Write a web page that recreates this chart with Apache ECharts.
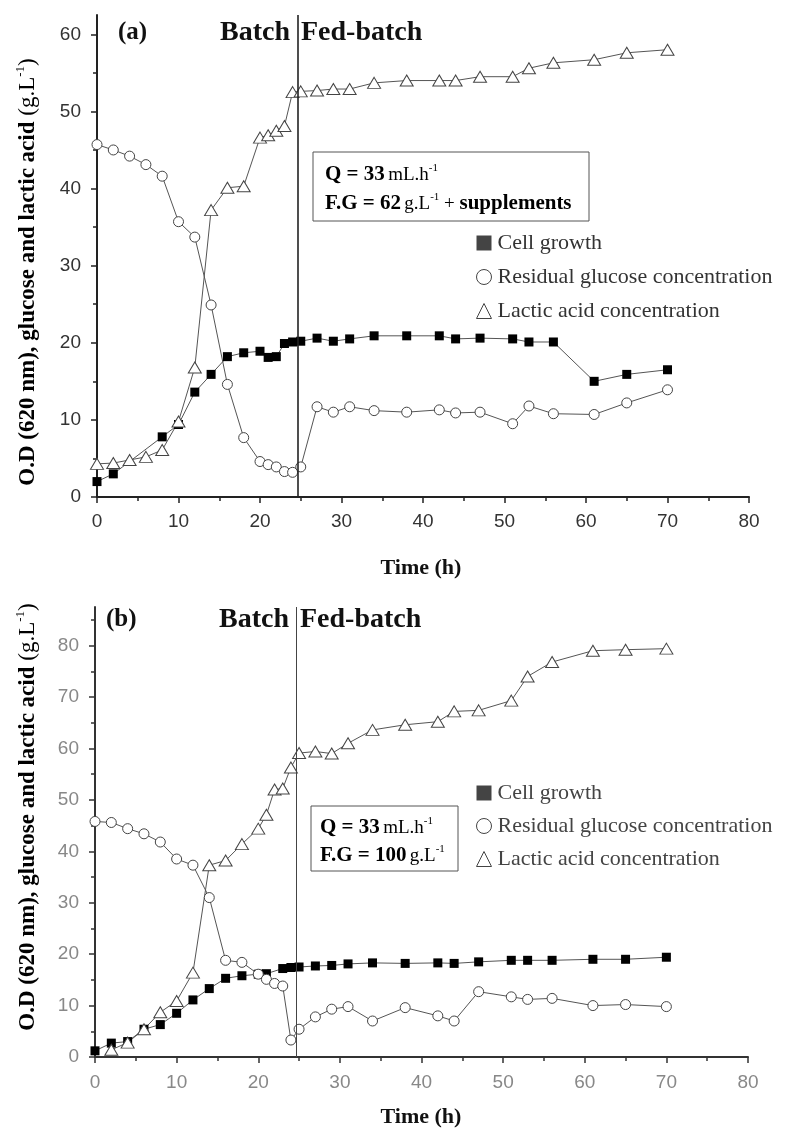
<!DOCTYPE html>
<html>
<head>
<meta charset="utf-8">
<script src="https://cdn.jsdelivr.net/npm/echarts@6/dist/echarts.min.js"></script>
<style>
html,body{margin:0;padding:0;background:#fff;}
#chart{width:787px;height:1144px;}
</style>
</head>
<body>
<div id="chart"></div>
<script>
// ---------- DATA ----------
var xTicks = [0, 10, 20, 30, 40, 50, 60, 70, 80];
var yTicksA = [0, 10, 20, 30, 40, 50, 60];
var yMinorA = [5, 15, 25, 35, 45, 55];
var yTicksB = [0, 10, 20, 30, 40, 50, 60, 70, 80];
var yMinorB = [5, 15, 25, 35, 45, 55, 65, 75, 85];

var seriesNames = ['Cell growth', 'Residual glucose concentration', 'Lactic acid concentration'];

// Panel (a)
var timeCellA = [0,2,8,10,12,14,16,18,20,21,22,23,24,25,27,29,31,34,38,42,44,47,51,53,56,61,65,70];
var cellA = [2.0,3.0,7.8,9.4,13.6,15.9,18.2,18.7,18.9,18.1,18.2,19.9,20.1,20.2,20.6,20.2,20.5,20.9,20.9,20.9,20.5,20.6,20.5,20.1,20.1,15.0,15.9,16.5];
var timeGlcA = [0,2,4,6,8,10,12,14,16,18,20,21,22,23,24,25,27,29,31,34,38,42,44,47,51,53,56,61,65,70];
var glucoseA = [45.7,45.0,44.2,43.1,41.6,35.7,33.7,24.9,14.6,7.7,4.6,4.2,3.9,3.3,3.2,3.9,11.7,11.0,11.7,11.2,11.0,11.3,10.9,11.0,9.5,11.8,10.8,10.7,12.2,13.9];
var timeLacA = [0,2,4,6,8,10,12,14,16,18,20,21,22,23,24,25,27,29,31,34,38,42,44,47,51,53,56,61,65,70];
var lacticA = [4.3,4.4,4.8,5.2,6.1,9.8,16.8,37.2,40.1,40.3,46.6,46.9,47.5,48.1,52.5,52.6,52.7,52.9,52.9,53.7,54.0,54.0,54.0,54.5,54.5,55.6,56.3,56.7,57.6,58.0];
var fedStartA = 24.6;

// Panel (b)
var timeCellB = [0,2,4,6,8,10,12,14,16,18,20,21,23,24,25,27,29,31,34,38,42,44,47,51,53,56,61,65,70];
var cellB = [1.2,2.7,3.0,5.4,6.3,8.5,11.1,13.3,15.3,15.8,16.1,16.2,17.2,17.4,17.5,17.7,17.8,18.1,18.3,18.2,18.3,18.2,18.5,18.8,18.8,18.8,19.0,19.0,19.4];
var timeGlcB = [0,2,4,6,8,10,12,14,16,18,20,21,22,23,24,25,27,29,31,34,38,42,44,47,51,53,56,61,65,70];
var glucoseB = [45.8,45.6,44.4,43.4,41.8,38.5,37.3,31.0,18.8,18.4,16.1,15.1,14.3,13.8,3.3,5.4,7.8,9.3,9.8,7.0,9.6,8.0,7.0,12.7,11.7,11.2,11.4,10.0,10.2,9.8];
var timeLacB = [2,4,6,8,10,12,14,16,18,20,21,22,23,24,25,27,29,31,34,38,42,44,47,51,53,56,61,65,70];
var lacticB = [1.4,2.8,5.4,8.7,10.9,16.4,37.3,38.2,41.4,44.4,47.1,52.0,52.2,56.3,59.1,59.4,59.0,61.0,63.6,64.6,65.2,67.2,67.4,69.3,74.0,76.8,79.0,79.2,79.4];
var fedStartB = 24.6;

// ---------- HELPERS ----------
function pairs(t, v) { return t.map(function (x, i) { return [x, v[i]]; }); }
var SERIF = "'Liberation Serif','Times New Roman',serif";
var SANS = "'Liberation Sans',Arial,sans-serif";

function xAxisCfg(gridIndex, labelColor, lineColor, margin) {
  return {
    type: 'value', gridIndex: gridIndex, min: 0, max: 80, interval: 10,
    axisLine: { show: true, onZero: false, lineStyle: { color: lineColor, width: 2 } },
    axisTick: { show: true, inside: false, length: 6, lineStyle: { color: lineColor, width: 1.5 } },
    minorTick: { show: true, splitNumber: 2, length: 4, lineStyle: { color: lineColor, width: 1.5 } },
    axisLabel: { color: labelColor, fontFamily: SANS, fontSize: 19, margin: margin, customValues: xTicks },
    splitLine: { show: false }, minorSplitLine: { show: false }
  };
}
function yMajorCfg(gridIndex, max, ticks, labelColor, lineColor) {
  return {
    type: 'value', gridIndex: gridIndex, min: 0, max: max,
    axisLine: { show: true, onZero: false, lineStyle: { color: lineColor, width: 2 } },
    axisTick: { show: true, inside: false, length: 6, customValues: ticks, lineStyle: { color: lineColor, width: 1.5 } },
    axisLabel: { color: labelColor, fontFamily: SANS, fontSize: 19, margin: 16, customValues: ticks },
    splitLine: { show: false }
  };
}
function yMinorCfg(gridIndex, max, ticks, lineColor) {
  return {
    type: 'value', gridIndex: gridIndex, min: 0, max: max, position: 'left',
    axisLine: { show: false },
    axisTick: { show: true, inside: false, length: 4, customValues: ticks, lineStyle: { color: lineColor, width: 1.5 } },
    axisLabel: { show: false },
    splitLine: { show: false }
  };
}
function lineSeries(name, data, xi, yi, kind, extra) {
  var s = {
    name: name, type: 'line', xAxisIndex: xi, yAxisIndex: yi, data: data,
    showSymbol: true, showAllSymbol: true, animation: false, silent: true,
    lineStyle: { color: '#555', width: 1 },
    emphasis: { disabled: true }
  };
  if (kind === 'square') {
    s.symbol = 'rect'; s.symbolSize = 9;
    s.itemStyle = { color: '#000', borderColor: '#000', borderWidth: 0 };
  } else if (kind === 'circle') {
    s.symbol = 'circle'; s.symbolSize = 10;
    s.itemStyle = { color: '#fff', borderColor: '#444', borderWidth: 1 };
  } else {
    s.symbol = 'triangle'; s.symbolSize = [13, 11];
    s.itemStyle = { color: '#fff', borderColor: '#444', borderWidth: 1 };
  }
  if (extra) { for (var k in extra) s[k] = extra[k]; }
  return s;
}
function vline(x, color, width) {
  return { markLine: { silent: true, symbol: 'none', animation: false, label: { show: false },
    lineStyle: { color: color, width: width, type: 'solid' }, emphasis: { disabled: true },
    data: [{ xAxis: x }] } };
}

var rich = {
  b: { fontFamily: SERIF, fontWeight: 'bold', fontSize: 21, color: '#222', lineHeight: 24 },
  n: { fontFamily: SERIF, fontSize: 19, color: '#333', lineHeight: 24 },
  s: { fontFamily: SERIF, fontSize: 11, color: '#333', verticalAlign: 'top', lineHeight: 24 }
};
var richTitle = {
  b: { fontFamily: SERIF, fontWeight: 'bold', fontSize: 23, color: '#222', lineHeight: 28 },
  n: { fontFamily: SERIF, fontSize: 23, color: '#333', lineHeight: 28 },
  s: { fontFamily: SERIF, fontSize: 13, color: '#333', verticalAlign: 'top', lineHeight: 28 }
};

function legendCfg(top, color, gap) {
  return {
    orient: 'vertical', left: 471, top: top, itemWidth: 15, itemHeight: 15, itemGap: gap,
    selectedMode: false,
    textStyle: { fontFamily: SERIF, fontSize: 22, color: color, padding: [0, 0, 0, 1] },
    data: [
      { name: seriesNames[0], icon: 'rect', itemStyle: { color: '#444', borderWidth: 0 } },
      { name: seriesNames[1], icon: 'circle', itemStyle: { color: '#fff', borderColor: '#444', borderWidth: 1 } },
      { name: seriesNames[2], icon: 'triangle', itemStyle: { color: '#fff', borderColor: '#444', borderWidth: 1 } }
    ]
  };
}

function txt(x, y, text, size, align, color) {
  return { type: 'text', x: x, y: y, silent: true,
    style: { text: text, fontFamily: SERIF, fontWeight: 'bold', fontSize: size, fill: color || '#111',
      align: align || 'left', verticalAlign: 'middle' } };
}

var option = {
  animation: false,
  backgroundColor: '#fff',
  grid: [
    { left: 97, top: 15, width: 652, height: 482 },
    { left: 95, top: 607, width: 653, height: 450 }
  ],
  xAxis: [
    xAxisCfg(0, '#333', '#222', 15),
    xAxisCfg(1, '#888', '#333', 16)
  ],
  yAxis: [
    yMajorCfg(0, 62.5, yTicksA, '#333', '#222'),
    yMinorCfg(0, 62.5, yMinorA, '#222'),
    yMajorCfg(1, 87.5, yTicksB, '#888', '#333'),
    yMinorCfg(1, 87.5, yMinorB, '#333')
  ],
  legend: [legendCfg(227, '#333', 12), legendCfg(777, '#444', 11)],
  series: [
    lineSeries(seriesNames[0], pairs(timeCellA, cellA), 0, 0, 'square', vline(fedStartA, '#222', 1.6)),
    lineSeries(seriesNames[1], pairs(timeGlcA, glucoseA), 0, 0, 'circle'),
    lineSeries(seriesNames[2], pairs(timeLacA, lacticA), 0, 0, 'triangle'),
    lineSeries(seriesNames[0], pairs(timeCellB, cellB), 1, 2, 'square', vline(fedStartB, '#444', 1)),
    lineSeries(seriesNames[1], pairs(timeGlcB, glucoseB), 1, 2, 'circle'),
    lineSeries(seriesNames[2], pairs(timeLacB, lacticB), 1, 2, 'triangle')
  ],
  graphic: [
    // panel labels
    txt(118, 33, '(a)', 25, 'left'),
    txt(290, 33, 'Batch', 28, 'right'),
    txt(301, 33, 'Fed-batch', 28, 'left'),
    txt(106, 620, '(b)', 25, 'left'),
    txt(289, 620, 'Batch', 28, 'right'),
    txt(300, 620, 'Fed-batch', 28, 'left'),
    // axis titles
    txt(421, 568, 'Time (h)', 22, 'center'),
    txt(421, 1117, 'Time (h)', 22, 'center'),
    { type: 'text', x: 28, y: 272, rotation: Math.PI / 2, silent: true,
      style: { text: '{b|O.D (620 nm), glucose and lactic acid}{n| (g.L}{s|-1}{n|)}', rich: richTitle,
        align: 'center', verticalAlign: 'middle' } },
    { type: 'text', x: 28, y: 817, rotation: Math.PI / 2, silent: true,
      style: { text: '{b|O.D (620 nm), glucose and lactic acid}{n| (g.L}{s|-1}{n|)}', rich: richTitle,
        align: 'center', verticalAlign: 'middle' } },
    // condition boxes
    { type: 'rect', silent: true, shape: { x: 313, y: 152, width: 276, height: 69 },
      style: { fill: '#fff', stroke: '#555', lineWidth: 1 }, z: 10 },
    { type: 'text', x: 325, y: 175, silent: true, z: 11,
      style: { text: '{b|Q = 33} {n|mL.h}{s|-1}', rich: rich, verticalAlign: 'middle' } },
    { type: 'text', x: 325, y: 204, silent: true, z: 11,
      style: { text: '{b|F.G = 62} {n|g.L}{s|-1}{n| + }{b|supplements}', rich: rich, verticalAlign: 'middle' } },
    { type: 'rect', silent: true, shape: { x: 311, y: 806, width: 147, height: 65 },
      style: { fill: '#fff', stroke: '#555', lineWidth: 1 }, z: 10 },
    { type: 'text', x: 320, y: 828, silent: true, z: 11,
      style: { text: '{b|Q = 33} {n|mL.h}{s|-1}', rich: rich, verticalAlign: 'middle' } },
    { type: 'text', x: 320, y: 856, silent: true, z: 11,
      style: { text: '{b|F.G = 100} {n|g.L}{s|-1}', rich: rich, verticalAlign: 'middle' } }
  ]
};

var chart = echarts.init(document.getElementById('chart'), null, { renderer: 'canvas' });
chart.setOption(option);
</script>
</body>
</html>
